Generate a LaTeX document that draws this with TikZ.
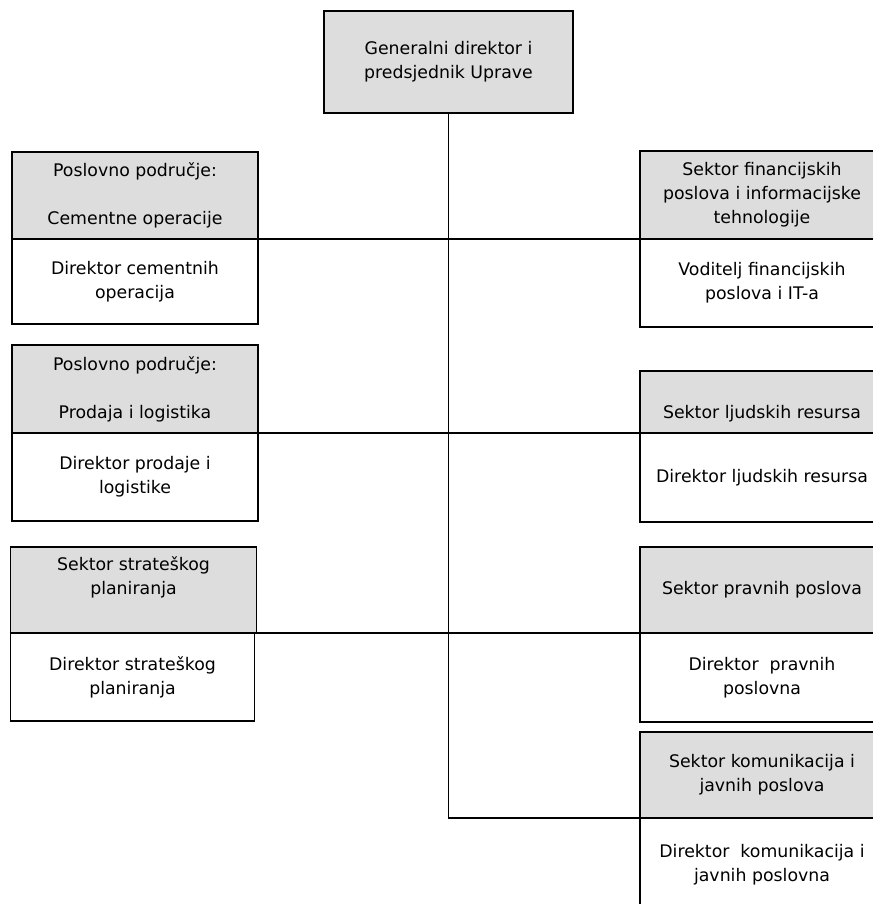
\documentclass[tikz,border=0pt]{standalone}
\usepackage{fontspec}
\setmainfont{DejaVu Sans}
\definecolor{hdrgray}{RGB}{221,221,221}
\newcommand\pxu[1]{#1*0.75pt}
\tikzset{
  box/.style={draw=black, line width=1pt, rectangle, inner sep=0pt, outer sep=0pt,
    align=center, font=\fontsize{13}{18}\selectfont, text=black},
  hdr/.style={box, fill=hdrgray},
  bodybox/.style={box, fill=white},
  conn/.style={draw=black, line width=0.8pt}
}
\begin{document}
\begin{tikzpicture}[x=0.75pt,y=-0.75pt]
\clip (0,0) rectangle (873,904);
\fill[white] (0,0) rectangle (873,904);
% top
\node[hdr, minimum width={\pxu{249}}, minimum height={\pxu{102}}] (ceo) at (448.5,62)
  {Generalni direktor i\\predsjednik Uprave};
% left column
\node[hdr, minimum width={\pxu{246}}, minimum height={\pxu{87}}] (cemH) at (135,195.5)
  {Poslovno područje:\\~\\Cementne operacije};
\node[bodybox, minimum width={\pxu{246}}, minimum height={\pxu{85}}] (cemB) at (135,281.5)
  {Direktor cementnih\\operacija};
\node[hdr, minimum width={\pxu{246}}, minimum height={\pxu{88}}] (proH) at (135,389)
  {Poslovno područje:\\~\\Prodaja i logistika};
\node[bodybox, minimum width={\pxu{246}}, minimum height={\pxu{88}}] (proB) at (135,477)
  {Direktor prodaje i\\logistike};
\node[hdr, minimum width={\pxu{246}}, minimum height={\pxu{86}}] (strH) at (133.5,590)
  {\strut Sektor strateškog\\planiranja\\\strut~};
\node[bodybox, minimum width={\pxu{244}}, minimum height={\pxu{88}}] (strB) at (132.5,677)
  {Direktor strateškog\\planiranja};
% right column
\node[hdr, minimum width={\pxu{244}}, minimum height={\pxu{88}}] (finH) at (762,195)
  {Sektor financijskih\\poslova i informacijske\\tehnologije};
\node[bodybox, minimum width={\pxu{244}}, minimum height={\pxu{88}}] (finB) at (762,283)
  {Voditelj financijskih\\poslova i IT-a};
\node[hdr, minimum width={\pxu{244}}, minimum height={\pxu{62}}] (ljuH) at (762,402)
  {\strut~\\\strut Sektor ljudskih resursa};
\node[bodybox, minimum width={\pxu{244}}, minimum height={\pxu{89}}] (ljuB) at (762,477.5)
  {Direktor ljudskih resursa};
\node[hdr, minimum width={\pxu{244}}, minimum height={\pxu{86}}] (praH) at (762,590)
  {Sektor pravnih poslova};
\node[bodybox, minimum width={\pxu{244}}, minimum height={\pxu{89}}] (praB) at (762,677.5)
  {Direktor\ \ pravnih\\poslovna};
\node[hdr, minimum width={\pxu{244}}, minimum height={\pxu{86}}] (komH) at (762,775)
  {Sektor komunikacija i\\javnih poslova};
\node[bodybox, minimum width={\pxu{244}}, minimum height={\pxu{94}}] (komB) at (762,865)
  {Direktor\ \ komunikacija i\\javnih poslovna};
% connectors
\draw[conn] (ceo.south) -- (ceo.south |- komH.south west) -- (komH.south west);
\draw[conn] (cemH.south east) -- (finH.south west);
\draw[conn] (proH.south east) -- (ljuH.south west);
\draw[conn] (strH.south east) -- (praH.south west);
\end{tikzpicture}
\end{document}
